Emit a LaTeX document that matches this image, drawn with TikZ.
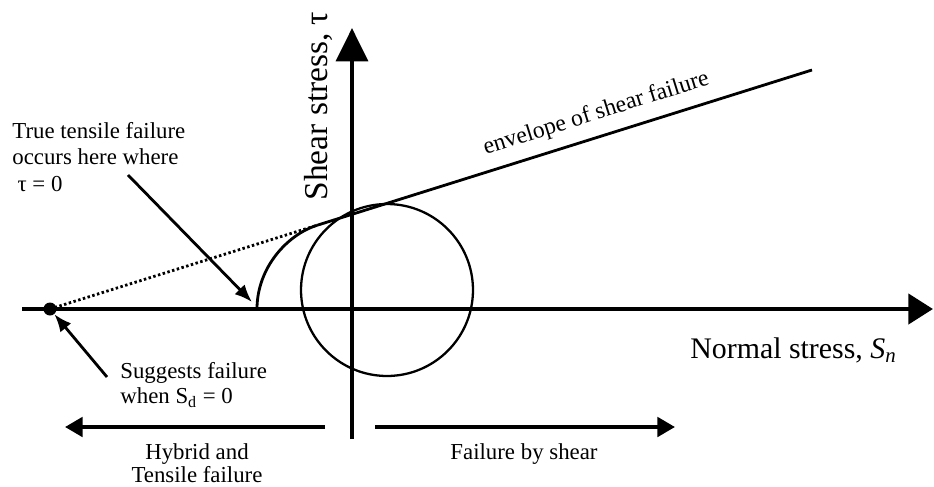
\documentclass[tikz,border=0pt]{standalone}
\usepackage{fontspec}
\setmainfont{Liberation Serif}
\usepackage{tikz}
\usetikzlibrary{arrows.meta,positioning,calc}

\begin{document}
\begin{tikzpicture}[x=0.02cm, y=-0.02cm,
    haxis/.style={line width=2.6pt, -{Triangle[length=14pt, width=17pt]}},
    vaxis/.style={line width=2.6pt, -{Triangle[length=19pt, width=18pt]}},
    envline/.style={line width=1.6pt},
    mohr/.style={line width=1.3pt},
    proj/.style={line width=1.6pt, dash pattern=on 1.4pt off 1.4pt},
    pointer/.style={line width=1.6pt, -{Latex[length=10pt, width=8pt]}},
    span/.style={line width=2.2pt, -{Triangle[length=10pt, width=11pt]}},
    dot/.style={circle, fill, inner sep=0pt, minimum size=7.4pt},
    lbl/.style={font=\fontsize{13}{14.5}\selectfont, inner sep=0pt, align=left}]
  \useasboundingbox (0,0) rectangle (934,487);
  % axes
  \coordinate (xL) at (22,309);
  \coordinate (xR) at (933,309);
  \coordinate (yB) at (352,439);
  \coordinate (yT) at (352,28);
  \draw[haxis] (xL) -- (xR);
  \draw[vaxis] (yB) -- (yT);
  \node[rotate=90, font=\fontsize{19}{22}\selectfont, inner sep=0pt] (ylbl) at (318,106) {Shear stress, τ};
  \node[font=\fontsize{17}{20}\selectfont, inner sep=0pt, anchor=base west] (xlbl) at (690,358) {Normal stress, \textit{S}\textsubscript{\textit{n}}};
  % envelope and Mohr circle
  \node[dot] (D) at (50,309) {};
  \coordinate (J) at (317,225.3);
  \coordinate (E) at (812,70);
  \coordinate (A) at (257,309);
  \coordinate (C) at (387,290);
  \draw[proj] (D.center) -- (J);
  \draw[envline] (J) -- (E) node[pos=0.578, sloped, above=6pt, font=\fontsize{13.5}{16}\selectfont, inner sep=0pt] (envlbl) {envelope of shear failure};
  \draw[envline] (A) .. controls (257,268) and (287,234.7) .. (J);
  \draw[mohr] (C) circle[radius=1.72cm];
  % labels with pointers
  \node[lbl, font=\fontsize{13}{15}\selectfont, anchor=north west] (truelbl) at (12,122) {True tensile failure\\occurs here where\\\hspace{3pt}τ = 0};
  \coordinate (trueA) at (128,175);
  \coordinate (trueB) at (252,302);
  \draw[pointer] (trueA) -- (trueB);
  \node[lbl, anchor=north west] (suglbl) at (120,362) {Suggests failure\\when S\textsubscript{d} = 0};
  \coordinate (sugA) at (107,377);
  \draw[pointer] (sugA) -- (D);
  % failure regions
  \coordinate (hL) at (65,427);
  \coordinate (hR) at (325,427);
  \coordinate (sL) at (375,427);
  \coordinate (sR) at (675,427);
  \draw[span] (hR) -- (hL);
  \draw[span] (sL) -- (sR);
  \node[lbl, font=\fontsize{13}{13.5}\selectfont, align=center, anchor=north] (hyblbl) at (197,443) {Hybrid and\\Tensile failure};
  \node[lbl, anchor=base] (shrlbl) at (524,459) {Failure by shear};
\end{tikzpicture}
\end{document}
